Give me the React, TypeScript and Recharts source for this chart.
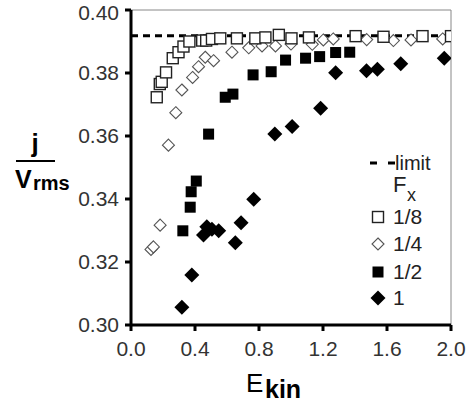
import React from 'react';
import {
  ScatterChart,
  Scatter,
  XAxis,
  YAxis,
  ReferenceLine,
  Legend,
  Label,
} from 'recharts';

// values
const xTicks = [0, 0.4, 0.8, 1.2, 1.6, 2.0];
const yTicks = [0.3, 0.32, 0.34, 0.36, 0.38, 0.4];
const limitValue = 0.3918;

const fx8X = [0.161, 0.180, 0.192, 0.219, 0.261, 0.297, 0.328, 0.365, 0.445, 0.470, 0.506, 0.558, 0.662, 0.777, 0.840, 0.924, 1.003, 1.112, 1.404, 1.578, 1.822, 2.0];
const fx8Y = [0.3723, 0.3765, 0.3772, 0.3802, 0.3847, 0.3866, 0.3884, 0.39, 0.3903, 0.3903, 0.3908, 0.391, 0.391, 0.391, 0.3913, 0.3921, 0.391, 0.3913, 0.3917, 0.3915, 0.3917, 0.3917];

const fx4X = [0.125, 0.140, 0.182, 0.234, 0.280, 0.318, 0.385, 0.422, 0.464, 0.516, 0.631, 0.736, 0.819, 0.903, 1.0, 1.133, 1.202, 1.264, 1.473, 1.640, 1.750, 1.948];
const fx4Y = [0.324, 0.3248, 0.3317, 0.3571, 0.3674, 0.3746, 0.3786, 0.382, 0.385, 0.3839, 0.3866, 0.388, 0.3886, 0.3886, 0.3892, 0.3891, 0.3905, 0.3908, 0.3906, 0.3903, 0.3905, 0.3908];

const fx2X = [0.324, 0.370, 0.376, 0.408, 0.485, 0.589, 0.637, 0.763, 0.876, 0.966, 1.091, 1.179, 1.279, 1.367];
const fx2Y = [0.3299, 0.3374, 0.3423, 0.3457, 0.3606, 0.3723, 0.3733, 0.3794, 0.3804, 0.3841, 0.3847, 0.3852, 0.3865, 0.3866];

const fx1X = [0.318, 0.380, 0.453, 0.474, 0.506, 0.548, 0.652, 0.688, 0.767, 0.899, 1.007, 1.185, 1.279, 1.472, 1.540, 1.686, 1.958];
const fx1Y = [0.3056, 0.3159, 0.3286, 0.3312, 0.3304, 0.3299, 0.3261, 0.3325, 0.3399, 0.3606, 0.363, 0.3688, 0.3801, 0.3807, 0.3812, 0.3829, 0.3847];

const legendNames = ['1/8', '1/4', '1/2', '1'];

const toPoints = (xs: number[], ys: number[]) => xs.map((x, i) => ({ x, y: ys[i] }));

const FONT = '"Liberation Sans", Arial, sans-serif';

const openSquare = (p: any) => (
  <rect x={p.cx - 5.5} y={p.cy - 5.5} width={11} height={11} fill="#fff" stroke="#222" strokeWidth={1.4} />
);
const openDiamond = (p: any) => (
  <polygon
    points={`${p.cx},${p.cy - 6} ${p.cx + 6},${p.cy} ${p.cx},${p.cy + 6} ${p.cx - 6},${p.cy}`}
    fill="#fff"
    stroke="#555"
    strokeWidth={1.1}
  />
);
const filledSquare = (p: any) => (
  <rect x={p.cx - 5.5} y={p.cy - 5.5} width={11} height={11} fill="#000" />
);
const filledDiamond = (p: any) => (
  <polygon
    points={`${p.cx},${p.cy - 7.5} ${p.cx + 7.5},${p.cy} ${p.cx},${p.cy + 7.5} ${p.cx - 7.5},${p.cy}`}
    fill="#000"
  />
);

const markers = [openSquare, openDiamond, filledSquare, filledDiamond];

const renderLegend = () => (
  <svg width={110} height={165} style={{ display: 'block' }}>
    <line x1={10} x2={36} y1={13} y2={13} stroke="#000" strokeWidth={3} strokeDasharray="7 11" />
    <text x={35} y={20} fontSize={20} fontFamily={FONT} fill="#222">limit</text>
    <text x={33} y={42} fontSize={22} fontFamily={FONT} fill="#222">F</text>
    <text x={47} y={51} fontSize={18} fontFamily={FONT} fill="#222">x</text>
    {legendNames.map((name, i) => {
      const cy = [67, 94, 122, 148][i];
      return (
        <g key={name}>
          {markers[i]({ cx: 18, cy })}
          <text x={33} y={cy + 7} fontSize={21} fontFamily={FONT} fill="#222">{name}</text>
        </g>
      );
    })}
  </svg>
);

const YTitle = () => (
  <g fontFamily={FONT} fontWeight="bold" fill="#000">
    <text x={35} y={152} fontSize={26} textAnchor="middle">j</text>
    <line x1={16} x2={55} y1={161} y2={161} stroke="#000" strokeWidth={2} />
    <text x={15} y={188} fontSize={25}>V</text>
    <text x={33} y={190} fontSize={20}>rms</text>
  </g>
);

const XTitle = () => (
  <g fontFamily={FONT} fill="#000">
    <text x={246} y={392} fontSize={26}>E</text>
    <text x={265} y={398} fontSize={25} fontWeight="bold">kin</text>
  </g>
);

export default function App() {
  return (
    <div style={{ position: 'absolute', left: 0, top: 0, width: 475, height: 405, background: '#fff' }}>
      <ScatterChart width={475} height={405} margin={{ top: 10, right: 24, bottom: 0, left: 0 }}>
        <XAxis
          type="number"
          dataKey="x"
          domain={[0, 2]}
          ticks={xTicks}
          tickFormatter={(v: number) => v.toFixed(1)}
          height={80}
          tickSize={6}
          tickMargin={10}
          axisLine={{ stroke: '#000', strokeWidth: 3 }}
          tickLine={{ stroke: '#000', strokeWidth: 3 }}
          tick={{ fill: '#333', fontSize: 21, fontFamily: FONT }}
          allowDataOverflow
        >
          <Label content={() => <XTitle />} />
        </XAxis>
        <YAxis
          type="number"
          dataKey="y"
          domain={[0.3, 0.4]}
          ticks={yTicks}
          tickFormatter={(v: number) => v.toFixed(2)}
          width={131}
          tickSize={6}
          tickMargin={6}
          axisLine={{ stroke: '#000', strokeWidth: 3 }}
          tickLine={{ stroke: '#000', strokeWidth: 3 }}
          tick={{ fill: '#333', fontSize: 21, fontFamily: FONT }}
          allowDataOverflow
        >
          <Label content={() => <YTitle />} />
        </YAxis>
        <ReferenceLine y={0.4} stroke="#888" strokeWidth={1} />
        <ReferenceLine x={2} stroke="#888" strokeWidth={1} />
        <ReferenceLine y={limitValue} stroke="#000" strokeWidth={3} strokeDasharray="7 5" />
        <Scatter name="1" data={toPoints(fx1X, fx1Y)} shape={filledDiamond} isAnimationActive={false} />
        <Scatter name="1/2" data={toPoints(fx2X, fx2Y)} shape={filledSquare} isAnimationActive={false} />
        <Scatter name="1/4" data={toPoints(fx4X, fx4Y)} shape={openDiamond} isAnimationActive={false} />
        <Scatter name="1/8" data={toPoints(fx8X, fx8Y)} shape={openSquare} isAnimationActive={false} />
        <Legend
          layout="vertical"
          align="center"
          verticalAlign="middle"
          content={renderLegend}
          wrapperStyle={{ left: 360, top: 150, width: 110, height: 165 }}
        />
      </ScatterChart>
    </div>
  );
}
